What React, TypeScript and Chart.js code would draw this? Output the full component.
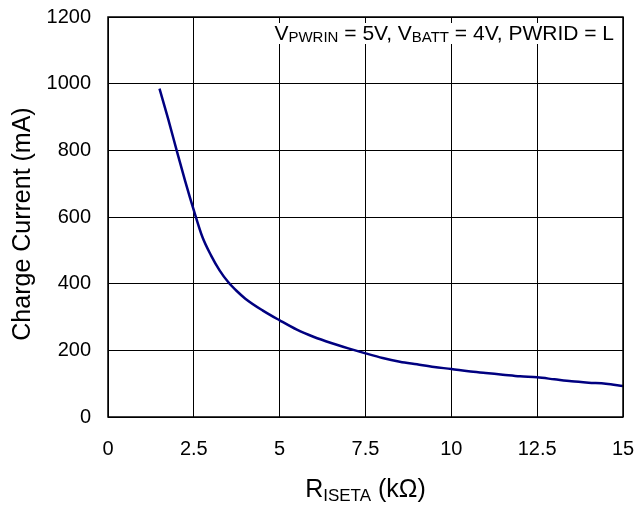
import React, { useEffect, useRef } from "react";
import { Chart, registerables } from "chart.js";

Chart.register(...registerables);

const rIseta = [1.5, 1.75, 2.0, 2.25, 2.5, 2.75, 3.0, 3.25, 3.5, 3.75, 4.0, 4.5, 5.0, 5.5, 6.0, 6.5, 7.0, 7.5, 8.0, 8.5, 9.0, 9.5, 10.0, 10.5, 11.0, 11.5, 12.0, 12.5, 13.0, 13.5, 14.0, 14.5, 15.0];
const chargeCurrent = [985, 895, 800, 707, 620, 540, 485, 440, 405, 378, 355, 320, 290, 262, 240, 222, 206, 191, 177, 166, 158, 150, 144, 137, 132, 127, 122, 119, 113, 107, 103, 100, 93];

const xTicks = [0, 2.5, 5, 7.5, 10, 12.5, 15];
const yTicks = [0, 200, 400, 600, 800, 1000, 1200];

const yTitle = "Charge Current (mA)";
const xTitle = [
  { t: "R", sub: false },
  { t: "ISETA", sub: true },
  { t: " (kΩ)", sub: false },
];
const note = [
  { t: "V", sub: false },
  { t: "PWRIN", sub: true },
  { t: " = 5V, V", sub: false },
  { t: "BATT", sub: true },
  { t: " = 4V, PWRID = L", sub: false },
];

const FONT = '"Liberation Sans", Arial, sans-serif';

type Seg = { t: string; sub: boolean };

function drawRich(ctx: CanvasRenderingContext2D, segs: Seg[], x: number, y: number, main: number, sub: number, subDrop: number, align: "left" | "center" | "right") {
  ctx.save();
  ctx.textBaseline = "alphabetic";
  ctx.textAlign = "left";
  let total = 0;
  for (const s of segs) {
    ctx.font = `${s.sub ? sub : main}px ${FONT}`;
    total += ctx.measureText(s.t).width;
  }
  let cx = align === "left" ? x : align === "center" ? x - total / 2 : x - total;
  for (const s of segs) {
    ctx.font = `${s.sub ? sub : main}px ${FONT}`;
    ctx.fillText(s.t, cx, s.sub ? y + subDrop : y);
    cx += ctx.measureText(s.t).width;
  }
  ctx.restore();
}

const overlay = {
  id: "overlay",
  afterDraw(chart: any) {
    const ctx: CanvasRenderingContext2D = chart.ctx;
    const a = chart.chartArea;
    ctx.save();
    // annotation box
    ctx.fillStyle = "#fff";
    ctx.fillRect(264, 23, a.right - 264, 21);
    ctx.fillStyle = "#000";
    drawRich(ctx, note, 614, 39.5, 21, 15, 2, "right");
    // plot border
    ctx.strokeStyle = "#000";
    ctx.lineWidth = 1.5;
    ctx.strokeRect(a.left, a.top, a.right - a.left, a.bottom - a.top);
    // x title
    drawRich(ctx, xTitle, (a.left + a.right) / 2, 497, 25, 17, 4, "center");
    // y title
    ctx.translate(30, 224);
    ctx.rotate(-Math.PI / 2);
    ctx.font = `25px ${FONT}`;
    ctx.textAlign = "center";
    ctx.textBaseline = "alphabetic";
    ctx.fillText(yTitle, 0, 0);
    ctx.restore();
  },
};

export default function App() {
  const ref = useRef<HTMLCanvasElement | null>(null);
  useEffect(() => {
    if (!ref.current) return;
    const chart = new Chart(ref.current, {
      type: "line",
      data: {
        datasets: [
          {
            data: rIseta.map((x, i) => ({ x, y: chargeCurrent[i] })),
            borderColor: "#000080",
            borderWidth: 2.5,
            pointRadius: 0,
            cubicInterpolationMode: "monotone",
            fill: false,
          },
        ],
      },
      options: {
        animation: false,
        responsive: false,
        layout: { padding: { left: 0, right: 13, top: 17, bottom: 0 } },
        plugins: { legend: { display: false }, tooltip: { enabled: false } },
        scales: {
          x: {
            type: "linear",
            min: 0,
            max: 15,
            afterBuildTicks: (s: any) => {
              s.ticks = xTicks.map((v) => ({ value: v }));
            },
            afterFit: (s: any) => {
              s.height = 89;
              s.paddingLeft = 0;
              s.paddingRight = 0;
            },
            grid: { color: "#000", lineWidth: 1, drawTicks: false },
            border: { display: false },
            ticks: {
              color: "#000",
              padding: 20,
              maxRotation: 0,
              font: { family: FONT, size: 20 },
              callback: (v: any) => String(v),
            },
          },
          y: {
            type: "linear",
            min: 0,
            max: 1200,
            afterBuildTicks: (s: any) => {
              s.ticks = yTicks.map((v) => ({ value: v }));
            },
            afterFit: (s: any) => {
              s.width = 108;
              s.paddingTop = 0;
              s.paddingBottom = 0;
            },
            grid: { color: "#000", lineWidth: 1, drawTicks: false },
            border: { display: false },
            ticks: {
              color: "#000",
              padding: 17,
              font: { family: FONT, size: 20 },
              callback: (v: any) => String(v),
            },
          },
        },
      },
      plugins: [overlay],
    });
    return () => chart.destroy();
  }, []);
  return (
    <div style={{ position: "fixed", left: 0, top: 0, width: 636, height: 506, background: "#fff" }}>
      <canvas ref={ref} width={636} height={506} style={{ width: 636, height: 506, display: "block" }} />
    </div>
  );
}
